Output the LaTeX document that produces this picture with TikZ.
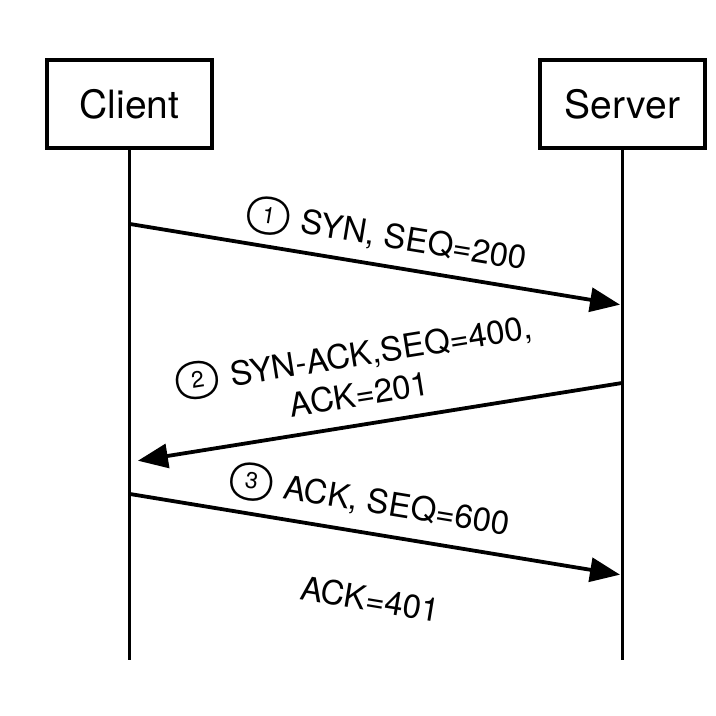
\documentclass[tikz,border=0pt]{standalone}
\usepackage{fontspec}
\setmainfont{TeX Gyre Heros}
\usetikzlibrary{arrows.meta}
\newcommand\stepno[1]{\raisebox{0.4pt}{\fontsize{22}{22}\selectfont\ooalign{\boldmath$\bigcirc$\cr\hidewidth\raisebox{1.6pt}{\fontsize{11.5}{11.5}\selectfont#1}\hidewidth\cr}}}

\begin{document}
\begin{tikzpicture}[x=0.5pt, y=-0.5pt,
  actor/.style={draw, line width=2.2pt, minimum width=82.5pt, minimum height=44pt, font=\fontsize{19.5}{20}\selectfont},
  msg/.style={sloped, inner sep=0pt, align=center, font=\fontsize{16.5}{20}\selectfont},
  arr/.style={line width=1.9pt, -{Triangle[length=15pt,width=12pt]}}]
\useasboundingbox (0,0) rectangle (716,716);

% the two parties
\node[actor](client) at (129.5,104) {Client};
\node[actor](server) at (622.5,104) {Server};

% lifelines
\coordinate (cend) at (130,660);
\coordinate (send) at (622,660);
\draw[line width=1.8pt] (client.south) -- (client.south |- cend);
\draw[line width=1.8pt] (server.south) -- (server.south |- send);

% message ends
\coordinate (c1) at (130,224);
\coordinate (s1) at (622,305);
\coordinate (s2) at (622,383);
\coordinate (c2) at (130,462);
\coordinate (c3) at (130,494);
\coordinate (s3) at (622,575);

\draw[arr, shorten >=1pt] (c1) -- node[msg, pos=0.51, above=6pt]{\stepno{1} SYN, SEQ=200} (s1);
\draw[arr, shorten >=4pt] (s2) -- node[msg, pos=0.524, above=8pt]{\stepno{2} SYN-ACK,SEQ=400,\\ACK=201} (c2);
\draw[arr, shorten >=1pt] (c3) -- node[msg, pos=0.475, above=7pt]{\stepno{3} ACK, SEQ=600}
  node[msg, pos=0.51, below=25pt]{ACK=401} (s3);
\end{tikzpicture}
\end{document}
